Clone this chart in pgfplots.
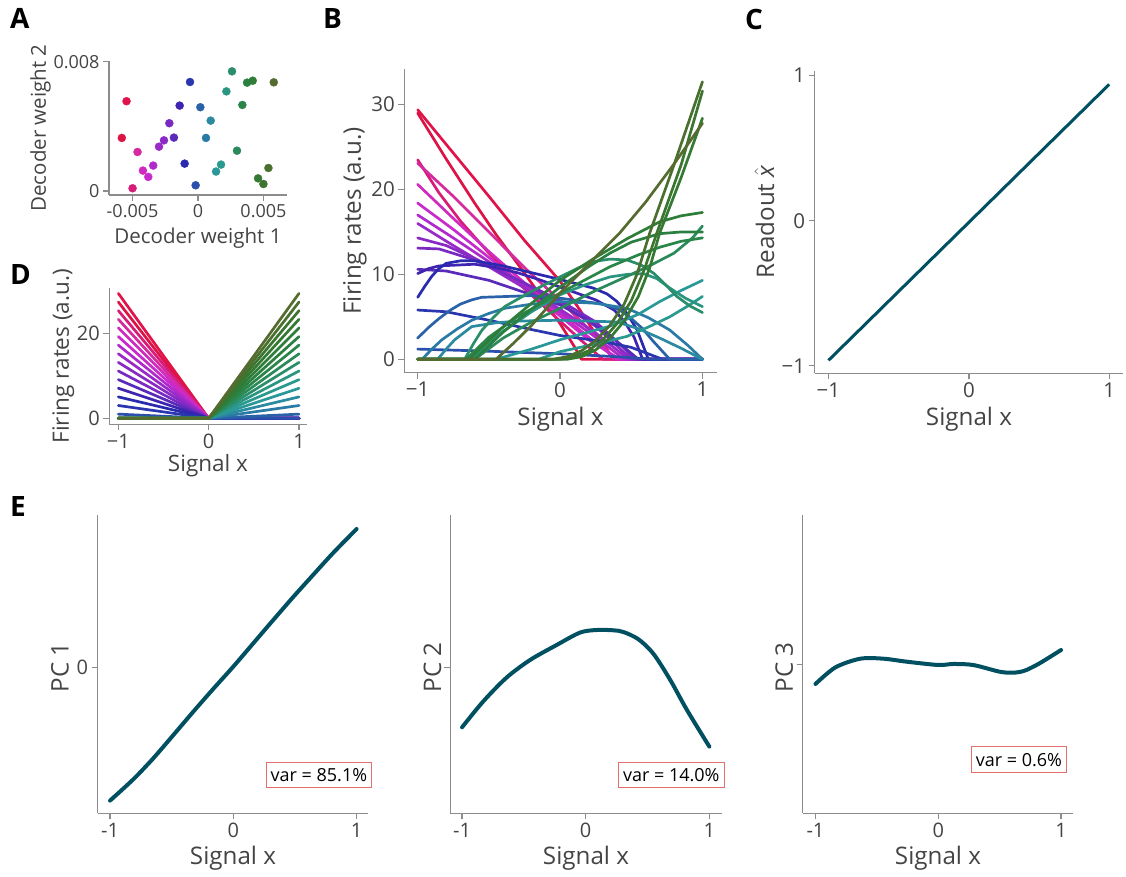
\documentclass[border=0pt]{standalone}
\usepackage{fontspec}
\setmainfont{Open Sans}
\usepackage{pgfplots}
\pgfplotsset{compat=1.18}

\newcommand\fs[1]{\fontsize{#1}{#1}\selectfont}

\definecolor{axgray}{RGB}{140,140,140}
\definecolor{labgray}{RGB}{68,68,68}
\definecolor{pcline}{RGB}{0,80,98}
\definecolor{boxred}{RGB}{226,110,110}

% neuron colours, ordered by decoder weight 1
\definecolor{n1}{HTML}{E0144A}
\definecolor{n2}{HTML}{DC1446}
\definecolor{n3}{HTML}{D81B78}
\definecolor{n4}{HTML}{D42A9E}
\definecolor{n5}{HTML}{D02ABE}
\definecolor{n6}{HTML}{C82ACB}
\definecolor{n7}{HTML}{B02ACB}
\definecolor{n8}{HTML}{9A2AC8}
\definecolor{n9}{HTML}{8A2AC5}
\definecolor{n10}{HTML}{7A2AC3}
\definecolor{n11}{HTML}{5A2AB8}
\definecolor{n12}{HTML}{3E24B0}
\definecolor{n13}{HTML}{2A2AAE}
\definecolor{n14}{HTML}{2A35B0}
\definecolor{n15}{HTML}{2A50AC}
\definecolor{n16}{HTML}{2A62A8}
\definecolor{n17}{HTML}{2A7AA6}
\definecolor{n18}{HTML}{2A8AA0}
\definecolor{n19}{HTML}{2A9898}
\definecolor{n20}{HTML}{2A9A90}
\definecolor{n21}{HTML}{2A9580}
\definecolor{n22}{HTML}{2A8E6A}
\definecolor{n23}{HTML}{2A8A5A}
\definecolor{n24}{HTML}{2A8548}
\definecolor{n25}{HTML}{2A8040}
\definecolor{n26}{HTML}{2E7D38}
\definecolor{n27}{HTML}{357A32}
\definecolor{n28}{HTML}{3B7530}
\definecolor{n29}{HTML}{4A7030}
\definecolor{n30}{HTML}{556B2F}

\pgfplotsset{
  panel/.style={scale only axis, axis lines*=left,
    axis line style={draw=axgray, line width=1.3pt},
    tick align=outside, major tick length=6pt,
    tick style={draw=axgray, line width=1.3pt},
    tick label style={text=labgray},
    label style={text=labgray},
    scaled ticks=false, clip=false,
    xlabel style={anchor=base}, ylabel style={anchor=center}},
  dot/.style={only marks, mark=*, mark size=4pt},
  rate/.style={line width=2.7pt, line join=round, line cap=round},
  pc/.style={pcline, line width=4pt, line join=round, line cap=round, smooth, tension=0.5}
}
\tikzset{varbox/.style={draw=boxred, line width=1pt, fill=white, text=black,
    font=\fs{18}, inner xsep=4.5pt, minimum height=25.4pt}}

\begin{document}
\begin{tikzpicture}
\path[use as bounding box] (0,0) rectangle (1126pt,877pt);

% ---------- A ----------
\begin{axis}[panel, at={(109pt,682pt)}, anchor=south west,
  width=178pt, height=134pt,
  xmin=-0.0068, xmax=0.0068, ymin=-0.00025, ymax=0.00804,
  xtick={-0.005,0,0.005}, xticklabels={-0.005,0,0.005},
  ytick={0,0.008}, yticklabels={0,0.008},
  tick label style={font=\fs{18}}, label style={font=\fs{20.5}},
  xlabel={Decoder weight 1}, ylabel={Decoder weight 2},
  xlabel style={at={(axis description cs:0.5,-0.36)}},
  ylabel style={at={(axis description cs:-0.384,0.5)}}]
\addplot[dot, n1] coordinates {(-0.00546,0.00555)};
\addplot[dot, n2] coordinates {(-0.00582,0.00328)};
\addplot[dot, n3] coordinates {(-0.00500,0.000165)};
\addplot[dot, n4] coordinates {(-0.00462,0.00241)};
\addplot[dot, n5] coordinates {(-0.00421,0.00126)};
\addplot[dot, n6] coordinates {(-0.00380,0.00087)};
\addplot[dot, n7] coordinates {(-0.00342,0.00157)};
\addplot[dot, n8] coordinates {(-0.00298,0.00274)};
\addplot[dot, n9] coordinates {(-0.00260,0.00313)};
\addplot[dot, n10] coordinates {(-0.00219,0.00419)};
\addplot[dot, n11] coordinates {(-0.00184,0.00330)};
\addplot[dot, n12] coordinates {(-0.00140,0.00528)};
\addplot[dot, n13] coordinates {(-0.00102,0.00169)};
\addplot[dot, n14] coordinates {(-0.00061,0.00674)};
\addplot[dot, n15] coordinates {(-0.00018,0.00035)};
\addplot[dot, n16] coordinates {(0.00018,0.00518)};
\addplot[dot, n17] coordinates {(0.00061,0.00328)};
\addplot[dot, n18] coordinates {(0.00097,0.00435)};
\addplot[dot, n19] coordinates {(0.00138,0.00120)};
\addplot[dot, n20] coordinates {(0.00176,0.00163)};
\addplot[dot, n21] coordinates {(0.00217,0.00616)};
\addplot[dot, n22] coordinates {(0.00260,0.00740)};
\addplot[dot, n23] coordinates {(0.00298,0.00249)};
\addplot[dot, n24] coordinates {(0.00339,0.00532)};
\addplot[dot, n25] coordinates {(0.00375,0.00670)};
\addplot[dot, n26] coordinates {(0.00418,0.00682)};
\addplot[dot, n27] coordinates {(0.00459,0.00078)};
\addplot[dot, n28] coordinates {(0.00500,0.00043)};
\addplot[dot, n29] coordinates {(0.00538,0.00142)};
\addplot[dot, n30] coordinates {(0.00579,0.00672)};
\end{axis}

% ---------- B ----------
\begin{axis}[panel, at={(404.3pt,504.3pt)}, anchor=south west,
  width=312.4pt, height=303.7pt,
  xmin=-1.094, xmax=1.10, ymin=-1.58, ymax=34.2,
  xtick={-1,0,1}, xticklabels={−1,0,1},
  ytick={0,10,20,30}, yticklabels={0,10,20,30},
  tick label style={font=\fs{20.5}}, label style={font=\fs{24.2}},
  xlabel={Signal x}, ylabel={Firing rates (a.u.)},
  xlabel style={at={(axis description cs:0.5,-0.1755)}},
  ylabel style={at={(axis description cs:-0.158,0.5)}}]
\addplot[rate, n1] coordinates {(-1,29.4)(-0.75,24.3)(-0.5,19.2)(-0.25,14.0)(0,9.2)(0.14,5.8)(0.26,2.7)(0.38,0)(1,0)};
\addplot[rate, n2] coordinates {(-1,29.0)(-0.8,23.6)(-0.6,18.4)(-0.45,14.7)(-0.3,11.3)(-0.15,7.8)(0,4.2)(0.1,1.5)(0.15,0)(1,0)};
\addplot[rate, n3] coordinates {(-1,23.5)(-0.85,19.6)(-0.7,16.3)(-0.5,12.5)(-0.25,8.3)(0,4.5)(0.15,2.2)(0.3,0)(1,0)};
\addplot[rate, n4] coordinates {(-1,23.1)(-0.75,19.2)(-0.5,15.0)(-0.25,10.8)(0,6.9)(0.2,3.6)(0.38,0)(1,0)};
\addplot[rate, n5] coordinates {(-1,20.6)(-0.75,16.6)(-0.5,12.7)(-0.25,9.0)(0,5.4)(0.2,2.6)(0.4,0)(1,0)};
\addplot[rate, n6] coordinates {(-1,18.4)(-0.75,15.3)(-0.5,12.0)(-0.25,8.6)(0,5.1)(0.2,2.3)(0.42,0)(1,0)};
\addplot[rate, n7] coordinates {(-1,17.0)(-0.75,14.3)(-0.5,11.5)(-0.25,8.6)(0,5.6)(0.25,2.6)(0.45,0)(1,0)};
\addplot[rate, n8] coordinates {(-1,16.0)(-0.75,13.4)(-0.5,10.9)(-0.25,8.4)(0,5.9)(0.25,3.1)(0.48,0)(1,0)};
\addplot[rate, n9] coordinates {(-1,14.3)(-0.8,13.4)(-0.5,11.1)(-0.25,8.9)(0,6.6)(0.25,3.9)(0.5,0)(1,0)};
\addplot[rate, n10] coordinates {(-1,13.1)(-0.85,13.0)(-0.6,11.7)(-0.3,9.4)(0,6.9)(0.25,4.4)(0.45,1.3)(0.52,0)(1,0)};
\addplot[rate, n11] coordinates {(-1,10.6)(-0.8,10.4)(-0.5,9.3)(-0.2,7.6)(0,6.4)(0.2,4.6)(0.4,2.1)(0.55,0)(1,0)};
\addplot[rate, n12] coordinates {(-1,10.1)(-0.92,10.7)(-0.85,11.0)(-0.6,11.2)(-0.45,10.8)(-0.3,10.2)(-0.15,9.4)(0,8.5)(0.25,7.0)(0.38,5.8)(0.45,4.5)(0.52,2.6)(0.58,0)(1,0)};
\addplot[rate, n13] coordinates {(-1,7.3)(-0.95,8.6)(-0.9,9.8)(-0.85,10.7)(-0.8,11.3)(-0.7,11.6)(-0.6,11.6)(-0.4,11.0)(-0.2,10.2)(0,9.4)(0.23,8.4)(0.33,7.7)(0.4,6.8)(0.47,5.4)(0.54,3.5)(0.62,0)(1,0)};
\addplot[rate, n14] coordinates {(-1,5.8)(-0.8,5.6)(-0.5,4.6)(-0.2,3.5)(0,2.8)(0.3,2.1)(0.5,1.4)(0.72,0)(1,0)};
\addplot[rate, n15] coordinates {(-1,1.2)(-0.5,0.95)(0,0.65)(0.4,0.3)(0.65,0)(1,0)};
\addplot[rate, n16] coordinates {(-1,2.5)(-0.92,3.8)(-0.85,4.8)(-0.77,5.8)(-0.7,6.5)(-0.62,7.0)(-0.55,7.3)(-0.2,7.5)(0,7.2)(0.3,6.5)(0.42,5.8)(0.5,4.8)(0.58,3.6)(0.65,2.2)(0.77,0)(1,0)};
\addplot[rate, n17] coordinates {(-1,0)(-0.97,0)(-0.9,1.2)(-0.83,2.3)(-0.72,3.6)(-0.62,4.6)(-0.5,5.4)(-0.39,6.0)(-0.2,6.5)(0,6.8)(0.25,6.6)(0.47,6.0)(0.62,4.9)(0.77,3.45)(0.9,1.6)(1,0)};
\addplot[rate, n18] coordinates {(-1,0)(-0.86,0)(-0.8,1.2)(-0.74,2.3)(-0.62,3.85)(-0.45,4.3)(-0.3,4.5)(0,4.6)(0.4,4.4)(0.55,3.6)(0.7,2.5)(0.85,1.3)(1,0)};
\addplot[rate, n19] coordinates {(-1,0)(-0.45,0)(-0.2,1.2)(0,2.3)(0.35,3.9)(0.55,5.3)(0.7,6.8)(0.85,8.1)(1,9.3)};
\addplot[rate, n20] coordinates {(-1,0)(-0.15,0)(0,0.9)(0.25,1.8)(0.47,2.7)(0.62,3.8)(0.77,5.0)(0.9,6.3)(1,7.4)};
\addplot[rate, n21] coordinates {(-1,0)(-0.62,0)(-0.52,1.7)(-0.4,3.3)(-0.2,5.6)(0,7.6)(0.18,8.8)(0.35,9.7)(0.47,10.0)(0.585,10.1)(0.68,9.5)(0.77,8.4)(0.88,7.2)(1,6.2)};
\addplot[rate, n22] coordinates {(-1,0)(-0.67,0)(-0.61,1.8)(-0.55,3.4)(-0.47,4.9)(-0.39,6.2)(-0.2,8.0)(0,9.7)(0.12,10.7)(0.23,11.5)(0.35,11.8)(0.47,11.7)(0.57,11.1)(0.66,10.1)(0.74,8.8)(0.82,7.4)(0.91,6.3)(1,5.5)};
\addplot[rate, n23] coordinates {(-1,0)(-0.6,0)(-0.4,2.5)(-0.2,4.4)(0,6.0)(0.25,8.1)(0.5,10.0)(0.65,11.2)(0.8,12.5)(0.93,14.3)(1,15.7)};
\addplot[rate, n24] coordinates {(-1,0)(-0.66,0)(-0.5,2.6)(-0.3,5.0)(0,7.8)(0.35,10.9)(0.55,12.3)(0.7,13.2)(0.85,13.9)(1,14.3)};
\addplot[rate, n25] coordinates {(-1,0)(-0.6,0)(-0.4,3.2)(-0.2,5.9)(0,8.5)(0.2,10.9)(0.35,12.5)(0.5,13.8)(0.7,14.8)(0.85,15.0)(1,15.0)};
\addplot[rate, n26] coordinates {(-1,0)(-0.64,0)(-0.4,3.8)(-0.2,6.6)(0,9.3)(0.23,11.8)(0.47,14.2)(0.7,16.2)(0.85,16.9)(1,17.3)};
\addplot[rate, n27] coordinates {(-1,0)(0.05,0)(0.15,0.3)(0.25,1.1)(0.35,2.5)(0.45,4.5)(0.55,7.4)(0.63,10.8)(0.70,14.9)(0.85,21.4)(1,28.4)};
\addplot[rate, n28] coordinates {(-1,0)(0,0)(0.1,0.3)(0.2,1.0)(0.3,2.3)(0.4,4.2)(0.5,6.9)(0.59,10.5)(0.68,14.9)(0.85,22.9)(1,31.6)};
\addplot[rate, n29] coordinates {(-1,0)(-0.05,0)(0.05,0.3)(0.15,1.0)(0.25,2.2)(0.35,4.0)(0.45,6.5)(0.54,10.0)(0.63,14.9)(0.8,22.9)(1,32.7)};
\addplot[rate, n30] coordinates {(-1,0)(-0.45,0)(-0.32,2.0)(-0.2,4.0)(0,7.8)(0.2,11.2)(0.42,14.9)(0.6,18.5)(0.8,23.0)(1,27.8)};
\end{axis}

% ---------- C ----------
\begin{axis}[panel, at={(814.7pt,503.7pt)}, anchor=south west,
  width=308.6pt, height=302.6pt,
  xmin=-1.098, xmax=1.10, ymin=-1.052, ymax=1.034,
  xtick={-1,0,1}, xticklabels={−1,0,1},
  ytick={-1,0,1}, yticklabels={−1,0,1},
  tick label style={font=\fs{20.5}}, label style={font=\fs{24.2}},
  xlabel={Signal x}, ylabel={Readout $\hat{\hbox{\itshape x}}$},
  xlabel style={at={(axis description cs:0.5,-0.171)}},
  ylabel style={at={(axis description cs:-0.163,0.5)}}]
\addplot[pcline, line width=3pt] coordinates {(-1,-0.963)(1,0.94)};
\end{axis}

% ---------- D ----------
\begin{axis}[panel, at={(109.3pt,452.7pt)}, anchor=south west,
  width=197.4pt, height=136pt,
  xmin=-1.10, xmax=1.085, ymin=-1.41, ymax=30.6,
  xtick={-1,0,1}, xticklabels={−1,0,1},
  ytick={0,20}, yticklabels={0,20},
  tick label style={font=\fs{20}}, label style={font=\fs{22.5}},
  xlabel={Signal x}, ylabel={Firing rates (a.u.)},
  xlabel style={at={(axis description cs:0.5,-0.349)}},
  ylabel style={at={(axis description cs:-0.233,0.5)}}]
\addplot[rate, n1] coordinates {(-1,29.40)(0,0)(1,0)};
\addplot[rate, n2] coordinates {(-1,27.37)(0,0)(1,0)};
\addplot[rate, n3] coordinates {(-1,25.34)(0,0)(1,0)};
\addplot[rate, n4] coordinates {(-1,23.31)(0,0)(1,0)};
\addplot[rate, n5] coordinates {(-1,21.28)(0,0)(1,0)};
\addplot[rate, n6] coordinates {(-1,19.25)(0,0)(1,0)};
\addplot[rate, n7] coordinates {(-1,17.22)(0,0)(1,0)};
\addplot[rate, n8] coordinates {(-1,15.19)(0,0)(1,0)};
\addplot[rate, n9] coordinates {(-1,13.16)(0,0)(1,0)};
\addplot[rate, n10] coordinates {(-1,11.13)(0,0)(1,0)};
\addplot[rate, n11] coordinates {(-1,9.10)(0,0)(1,0)};
\addplot[rate, n12] coordinates {(-1,7.07)(0,0)(1,0)};
\addplot[rate, n13] coordinates {(-1,5.04)(0,0)(1,0)};
\addplot[rate, n14] coordinates {(-1,3.01)(0,0)(1,0)};
\addplot[rate, n15] coordinates {(-1,0.98)(0,0)(1,0)};
\addplot[rate, n16] coordinates {(-1,0)(0,0)(1,0.98)};
\addplot[rate, n17] coordinates {(-1,0)(0,0)(1,3.01)};
\addplot[rate, n18] coordinates {(-1,0)(0,0)(1,5.04)};
\addplot[rate, n19] coordinates {(-1,0)(0,0)(1,7.07)};
\addplot[rate, n20] coordinates {(-1,0)(0,0)(1,9.10)};
\addplot[rate, n21] coordinates {(-1,0)(0,0)(1,11.13)};
\addplot[rate, n22] coordinates {(-1,0)(0,0)(1,13.16)};
\addplot[rate, n23] coordinates {(-1,0)(0,0)(1,15.19)};
\addplot[rate, n24] coordinates {(-1,0)(0,0)(1,17.22)};
\addplot[rate, n25] coordinates {(-1,0)(0,0)(1,19.25)};
\addplot[rate, n26] coordinates {(-1,0)(0,0)(1,21.28)};
\addplot[rate, n27] coordinates {(-1,0)(0,0)(1,23.31)};
\addplot[rate, n28] coordinates {(-1,0)(0,0)(1,25.34)};
\addplot[rate, n29] coordinates {(-1,0)(0,0)(1,27.37)};
\addplot[rate, n30] coordinates {(-1,0)(0,0)(1,29.40)};
\end{axis}

% ---------- E ----------
\begin{axis}[panel, at={(97.7pt,63.7pt)}, anchor=south west,
  width=270.6pt, height=298.3pt,
  xmin=-1.10, xmax=1.095, ymin=-1.46, ymax=1.523,
  xtick={-1,0,1}, xticklabels={-1,0,1},
  ytick={0}, yticklabels={0},
  tick label style={font=\fs{20}}, label style={font=\fs{24.2}},
  xlabel={Signal x}, ylabel={PC 1},
  xlabel style={at={(axis description cs:0.5,-0.170)}},
  ylabel style={at={(axis description cs:-0.139,0.49)}}]
\addplot[pc] coordinates {(-1,-1.333)(-0.811,-1.12)(-0.649,-0.91)(-0.486,-0.677)(-0.324,-0.443)(-0.162,-0.215)(0,0.007)(0.162,0.24)(0.324,0.473)(0.486,0.703)(0.649,0.926)(0.811,1.145)(1,1.383)};
\node[varbox] at (axis cs:0.694,-1.077) {var = 85.1\%};
\end{axis}

\begin{axis}[panel, at={(450.3pt,63.7pt)}, anchor=south west,
  width=271.4pt, height=298.3pt,
  xmin=-1.095, xmax=1.10, ymin=-1.46, ymax=1.523,
  xtick={-1,0,1}, xticklabels={-1,0,1},
  ytick={0}, yticklabels={},
  tick label style={font=\fs{20}}, label style={font=\fs{24.2}},
  xlabel={Signal x}, ylabel={PC 2},
  xlabel style={at={(axis description cs:0.5,-0.170)}},
  ylabel style={at={(axis description cs:-0.0656,0.49)}}]
\addplot[pc] coordinates {(-1,-0.6)(-0.83,-0.343)(-0.64,-0.103)(-0.45,0.073)(-0.235,0.223)(-0.046,0.347)(0.089,0.373)(0.224,0.37)(0.305,0.353)(0.427,0.28)(0.549,0.133)(0.684,-0.127)(0.819,-0.427)(1,-0.793)};
\node[varbox] at (axis cs:0.692,-1.077) {var = 14.0\%};
\end{axis}

\begin{axis}[panel, at={(802.7pt,63.7pt)}, anchor=south west,
  width=270.6pt, height=298.3pt,
  xmin=-1.104, xmax=1.10, ymin=-1.486, ymax=1.497,
  xtick={-1,0,1}, xticklabels={-1,0,1},
  ytick={0}, yticklabels={},
  tick label style={font=\fs{20}}, label style={font=\fs{24.2}},
  xlabel={Signal x}, ylabel={PC 3},
  xlabel style={at={(axis description cs:0.5,-0.170)}},
  ylabel style={at={(axis description cs:-0.0684,0.49)}}]
\addplot[pc] coordinates {(-1,-0.193)(-0.838,-0.027)(-0.635,0.06)(-0.446,0.06)(-0.257,0.03)(0,-0.003)(0.122,0.007)(0.284,-0.003)(0.5,-0.07)(0.608,-0.08)(0.703,-0.06)(0.824,0.013)(1,0.147)};
\node[varbox] at (axis cs:0.657,-0.95) {var = 0.6\%};
\end{axis}

% panel letters
\node[anchor=base west, inner sep=0, font=\fs{28}\bfseries] at (10pt,848pt) {A};
\node[anchor=base west, inner sep=0, font=\fs{28}\bfseries] at (323pt,848pt) {B};
\node[anchor=base west, inner sep=0, font=\fs{28}\bfseries] at (745pt,847pt) {C};
\node[anchor=base west, inner sep=0, font=\fs{28}\bfseries] at (10pt,592pt) {D};
\node[anchor=base west, inner sep=0, font=\fs{28}\bfseries] at (10pt,360pt) {E};
\end{tikzpicture}
\end{document}
